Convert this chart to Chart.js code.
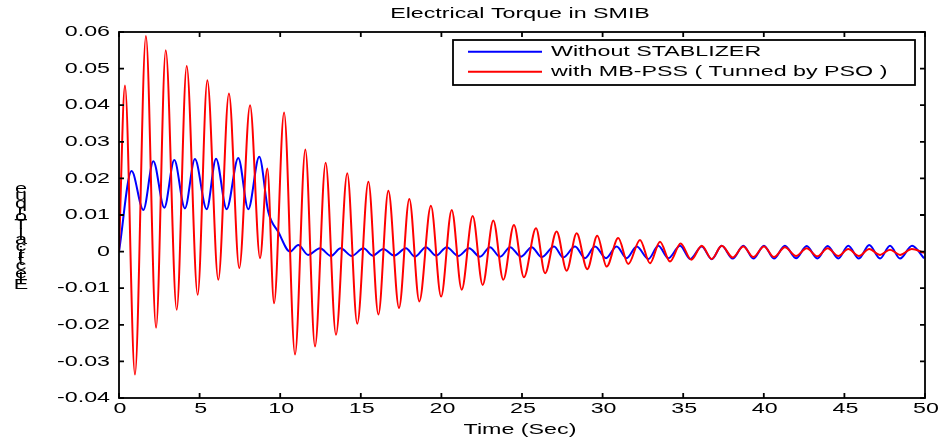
<!DOCTYPE html>
<html>
<head>
<meta charset="utf-8">
<script src="https://cdn.jsdelivr.net/npm/chart.js"></script>
<style>
  html, body { margin: 0; padding: 0; background: #fff; }
  #wrap { width: 940px; height: 438px; }
</style>
</head>
<body>
<div id="wrap"><canvas id="torque" width="940" height="438"></canvas></div>
<script>
// values (peaks / troughs), time in seconds
let redTime = [0, 0.37, 0.99, 1.67, 2.30, 2.90, 3.58, 4.20, 4.88, 5.48,
  6.16, 6.82, 7.46, 8.13, 8.75, 9.20, 9.62, 10.24, 10.92, 11.56,
  12.16, 12.82, 13.46, 14.16, 14.78, 15.47, 16.09, 16.71, 17.37, 18.01,
  18.63, 19.35, 19.98, 20.64, 21.26, 21.94, 22.56, 23.22, 23.84, 24.50,
  25.12, 25.87, 26.43, 27.15, 27.77, 28.39, 29.05, 29.67, 30.25, 30.97,
  31.59, 32.32, 32.94, 33.56, 34.18, 34.84, 35.50, 36.15, 36.77, 37.39,
  38.07, 38.73, 39.35, 40.01, 40.63, 41.31, 42.00, 42.66, 43.32, 43.96,
  44.62, 45.24, 45.90, 46.54, 47.21, 47.83, 48.45, 49.18, 49.94];
let redTorque = [0, 0.0454, -0.0336, 0.0589, -0.0208, 0.0550, -0.0159, 0.0507, -0.0118, 0.0468,
  -0.0077, 0.0432, -0.0045, 0.0400, -0.0018, 0.0227, -0.0141, 0.0380, -0.0281, 0.0279,
  -0.0259, 0.0243, -0.0227, 0.0214, -0.0197, 0.0191, -0.0172, 0.0166, -0.0154, 0.0144,
  -0.0136, 0.0125, -0.0123, 0.0114, -0.0104, 0.0097, -0.0091, 0.0085, -0.0077, 0.0073,
  -0.0070, 0.0064, -0.0059, 0.0055, -0.0052, 0.0050, -0.0048, 0.0043, -0.0041, 0.0037,
  -0.0034, 0.0032, -0.0032, 0.0027, -0.0027, 0.0022, -0.0022, 0.0016, -0.0020, 0.0016,
  -0.0016, 0.0014, -0.0015, 0.0014, -0.0015, 0.0012, -0.0012, 0.0009, -0.0013, 0.0009,
  -0.0012, 0.0007, -0.0012, 0.0007, -0.0009, 0.0005, -0.0009, 0.0007, -0.0003];

let blueTime = [0, 0.78, 1.51, 2.13, 2.81, 3.43, 4.09, 4.71, 5.44, 6.02,
  6.68, 7.40, 8.02, 8.70, 9.26, 9.88, 10.61, 11.12, 11.74, 12.47,
  13.15, 13.75, 14.44, 15.16, 15.74, 16.40, 17.06, 17.80, 18.36, 19.04,
  19.67, 20.33, 21.05, 21.72, 22.39, 23.01, 23.64, 24.26, 24.94, 25.60,
  26.22, 26.99, 27.56, 28.29, 28.91, 29.53, 30.21, 30.87, 31.49, 32.12,
  32.84, 33.46, 34.08, 34.81, 35.43, 36.15, 36.77, 37.39, 38.07, 38.73,
  39.35, 40.01, 40.63, 41.31, 42.00, 42.66, 43.32, 43.96, 44.62, 45.24,
  45.90, 46.54, 47.21, 47.83, 48.45, 49.20, 49.94];
let blueTorque = [0, 0.0220, 0.0114, 0.0247, 0.0120, 0.0250, 0.0118, 0.0253, 0.0116, 0.0254,
  0.0116, 0.0256, 0.0116, 0.0259, 0.0109, 0.0054, 0.0000, 0.0018, -0.0009, 0.0009,
  -0.0012, 0.0009, -0.0012, 0.0009, -0.0011, 0.0007, -0.0011, 0.0009, -0.0014, 0.0012,
  -0.0011, 0.0012, -0.0012, 0.0009, -0.0014, 0.0012, -0.0014, 0.0012, -0.0014, 0.0012,
  -0.0015, 0.0014, -0.0016, 0.0014, -0.0018, 0.0014, -0.0018, 0.0014, -0.0018, 0.0014,
  -0.0020, 0.0016, -0.0018, 0.0016, -0.0020, 0.0014, -0.0021, 0.0016, -0.0019, 0.0016,
  -0.0019, 0.0016, -0.0019, 0.0016, -0.0018, 0.0015, -0.0019, 0.0015, -0.0019, 0.0016,
  -0.0019, 0.0018, -0.0019, 0.0016, -0.0019, 0.0016, -0.0018];

let xTicks = [0, 5, 10, 15, 20, 25, 30, 35, 40, 45, 50];
let xTickLabels = ["0", "5", "10", "15", "20", "25", "30", "35", "40", "45", "50"];
let yTicks = [-0.04, -0.03, -0.02, -0.01, 0, 0.01, 0.02, 0.03, 0.04, 0.05, 0.06];
let yTickLabels = ["-0.04", "-0.03", "-0.02", "-0.01", "0", "0.01", "0.02", "0.03", "0.04", "0.05", "0.06"];
let seriesNames = ["Without STABLIZER", "with MB-PSS ( Tunned by PSO )"];
let seriesColors = ["#0000ff", "#ff0000"];

function toPoints(ts, vs) {
    return ts.map((t, i) => ({x: t, y: vs[i]}));
}

const FONT = '"Liberation Sans", Arial, sans-serif';
const STRETCH = 1.55;   // the exported figure has horizontally stretched text

function wideText(ctx, txt, x, y, align, size) {
    ctx.save();
    ctx.font = size + 'px ' + FONT;
    ctx.translate(x, y);
    ctx.scale(STRETCH, 1);
    ctx.textAlign = align;
    ctx.textBaseline = 'middle';
    ctx.fillText(txt, 0, 0);
    ctx.restore();
}

// box, inward ticks, labels and legend in the MATLAB look
const matlabAxes = {
    id: 'matlabAxes',
    afterDraw(chart) {
        const ctx = chart.ctx;
        const a = chart.chartArea;
        const xs = chart.scales.x, ys = chart.scales.y;
        ctx.save();
        ctx.strokeStyle = '#000';
        ctx.fillStyle = '#000';
        ctx.lineWidth = 1.8;
        ctx.strokeRect(a.left, a.top, a.right - a.left, a.bottom - a.top);

        ctx.beginPath();
        xTicks.forEach(v => {
            const px = xs.getPixelForValue(v);
            ctx.moveTo(px, a.bottom); ctx.lineTo(px, a.bottom - 5);
            ctx.moveTo(px, a.top); ctx.lineTo(px, a.top + 5);
        });
        yTicks.forEach(v => {
            const py = ys.getPixelForValue(v);
            ctx.moveTo(a.left, py); ctx.lineTo(a.left + 5, py);
            ctx.moveTo(a.right, py); ctx.lineTo(a.right - 5, py);
        });
        ctx.stroke();

        xTicks.forEach((v, i) => wideText(ctx, xTickLabels[i], xs.getPixelForValue(v) + 1, a.bottom + 11, 'center', 15));
        yTicks.forEach((v, i) => wideText(ctx, yTickLabels[i], a.left - 9, ys.getPixelForValue(v), 'right', 15));

        const cx = (a.left + a.right) / 2;
        wideText(ctx, 'Electrical Torque in SMIB', cx - 2, 14, 'center', 15);
        wideText(ctx, 'Time (Sec)', cx - 2, 430, 'center', 15);

        // y label: upright glyphs stacked bottom to top
        const yl = 'Electrical Torque';
        ctx.font = '14px ' + FONT;
        let pos = 290;
        for (const ch of yl) {
            const w = ctx.measureText(ch).width;
            if (ch !== ' ') wideText(ctx, ch, 21, pos - w / 2, 'center', 14);
            pos -= w;
        }

        // legend
        const lx = 453, ly = 40, lw = 462, lh = 45;
        ctx.fillStyle = '#fff';
        ctx.fillRect(lx, ly, lw, lh);
        ctx.strokeRect(lx, ly, lw, lh);
        seriesNames.forEach((name, i) => {
            const yy = 51.7 + i * 20;
            ctx.strokeStyle = seriesColors[i];
            ctx.lineWidth = 2;
            ctx.beginPath();
            ctx.moveTo(468, yy); ctx.lineTo(542, yy);
            ctx.stroke();
            ctx.fillStyle = '#000';
            wideText(ctx, name, 551, yy, 'left', 15);
        });
        ctx.restore();
    }
};

const ctx = document.getElementById('torque').getContext('2d');
const chart = new Chart(ctx, {
    type: 'line',
    data: {
        datasets: [{
            label: seriesNames[0],
            data: toPoints(blueTime, blueTorque),
            borderColor: seriesColors[0],
            borderWidth: 2,
            pointRadius: 0,
            cubicInterpolationMode: 'monotone',
            order: 1
        }, {
            label: seriesNames[1],
            data: toPoints(redTime, redTorque),
            borderColor: seriesColors[1],
            borderWidth: 2,
            pointRadius: 0,
            cubicInterpolationMode: 'monotone',
            order: 0
        }]
    },
    options: {
        responsive: false,
        animation: false,
        devicePixelRatio: 1,
        layout: { padding: { top: 32, right: 15, left: 0, bottom: 0 } },
        plugins: { legend: { display: false }, tooltip: { enabled: false } },
        scales: {
            x: {
                type: 'linear', min: 0, max: 50,
                ticks: { display: false },
                grid: { display: false },
                border: { display: false },
                afterFit: s => { s.height = 40; }
            },
            y: {
                min: -0.04, max: 0.06,
                ticks: { display: false },
                grid: { display: false },
                border: { display: false },
                afterFit: s => { s.width = 119; }
            }
        }
    },
    plugins: [matlabAxes]
});
</script>
</body>
</html>
